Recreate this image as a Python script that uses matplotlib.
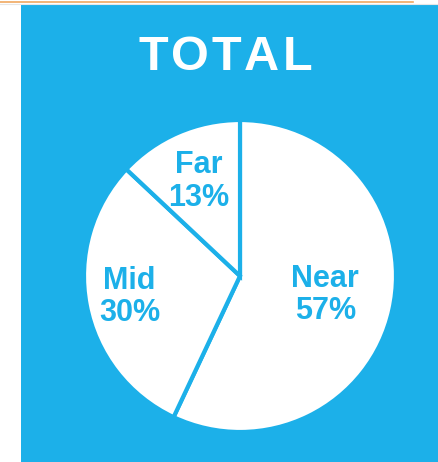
import numpy as np
import matplotlib.pyplot as plt
from matplotlib.patches import Rectangle
from matplotlib.lines import Line2D

plt.rcParams['font.family'] = ['Liberation Sans', 'DejaVu Sans']

categories = ['Near', 'Mid', 'Far']
shares = [57, 30, 13]
label_dist = [0.56, 0.72, 0.66]
title = 'TOTAL'

blue = '#1cb0e9'
W, H = 438, 462

fig = plt.figure(figsize=(W / 100, H / 100), dpi=100)
fig.patch.set_facecolor('white')

# top rule and blue panel (behind the axes)
fig.add_artist(Line2D([0, 413 / W], [1 - 2 / H, 1 - 2 / H], color='#f0a860', lw=1.2))
fig.add_artist(Line2D([0, 1], [1 - 3.5 / H, 1 - 3.5 / H], color='#e6e6e6', lw=0.8))
fig.add_artist(Rectangle((21 / W, 0), 1 - 21 / W, 1 - 5 / H, transform=fig.transFigure,
                         facecolor=blue, edgecolor='none', zorder=-5))

# spaced title, letter by letter
fig.canvas.draw()
renderer = fig.canvas.get_renderer()
track = 3
letters = []
for ch in title:
    t = fig.text(0, 1 - 57 / H, ch, color='white', fontsize=35, fontweight='bold',
                 ha='left', va='center')
    letters.append((t, t.get_window_extent(renderer).width))
total_w = sum(w for _, w in letters) + track * (len(letters) - 1)
x = 225 - total_w / 2
for t, w in letters:
    t.set_x(x / W)
    x += w + track

ax = fig.add_axes([84 / W, 29 / H, 312 / W, 314 / H])
ax.set_facecolor('none')
wedges, _ = ax.pie(shares, startangle=90, counterclock=False, colors=['white'] * 3,
                   wedgeprops=dict(edgecolor=blue, linewidth=3))
ax.set_aspect('equal')
ax.set_xlim(-1, 1)
ax.set_ylim(-1, 1)
ax.axis('off')

for w, name, pct, d in zip(wedges, categories, shares, label_dist):
    ang = np.deg2rad((w.theta1 + w.theta2) / 2)
    ax.text(d * np.cos(ang), d * np.sin(ang), f'{name}\n{pct}%', color=blue,
            fontsize=22, fontweight='bold', ha='center', va='center', linespacing=1.12)

fig.savefig('out.png', dpi=100, facecolor='white')
